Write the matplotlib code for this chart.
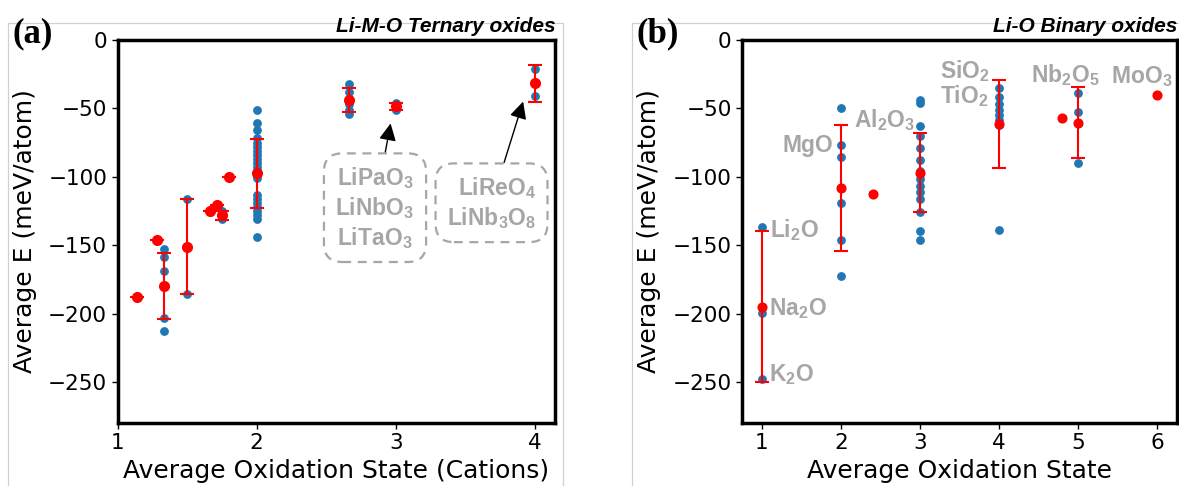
import numpy as np
import matplotlib
matplotlib.use("Agg")
import matplotlib.pyplot as plt
from matplotlib.lines import Line2D

plt.rcParams['mathtext.default'] = 'regular'

# ---------------- Panel (a): Li-M-O ternary oxides ----------------
a_blue_x = [4/3]*5 + [1.5]*2 + [1.75]*2 + [2]*22 + [8/3]*5 + [3]*2 + [4]*2
a_blue_y = [-153, -159, -169, -203, -213,
            -116, -186,
            -125, -131,
            -51, -61, -66, -72, -75, -78, -81, -84, -87, -90, -93, -96, -99, -101,
            -113, -116, -119, -122, -125, -128, -131, -144,
            -32, -38, -47, -51, -54,
            -46, -51,
            -21, -41]
a_mean_x = [8/7, 9/7, 4/3, 1.5, 5/3, 12/7, 1.75, 1.8, 2, 8/3, 3, 4]
a_mean_y = [-188, -146, -180, -151, -125, -120.5, -128, -100.5, -97.5, -44, -48.5, -31.5]
a_err = [0, 0, 24, 35, 0, 0, 3.3, 0, 25, 9, 2.5, 13.5]

a_box_texts = ["LiPaO$_3$\nLiNbO$_3$\nLiTaO$_3$", "LiReO$_4$\nLiNb$_3$O$_8$"]
a_box_targets = [(2.962, -61), (3.914, -45)]
a_box_centers = [(2.85, -122.6), (3.687, -119)]

# ---------------- Panel (b): Li-O binary oxides ----------------
b_blue_x = [1]*3 + [2]*6 + [3]*14 + [4]*8 + [5]*3
b_blue_y = [-137, -199.6, -247.7,
            -49.5, -76.4, -85.4, -119.1, -145.9, -172.8,
            -44, -46, -63, -70.5, -79.3, -87.8, -96, -101.5, -106.5, -111, -116,
            -125.7, -139.7, -146.4,
            -35.4, -41.5, -47, -51.2, -55, -58.6, -62.2, -139.1,
            -39, -52.5, -89.8]
b_mean_x = [1, 2, 2.4, 3, 4, 4.8, 5, 6]
b_mean_y = [-195, -108.3, -112.5, -97, -61.6, -57, -60.4, -40.5]
b_err = [55, 46, 0, 29, 32.3, 0, 26.2, 0]

b_labels = ["Li$_2$O", "Na$_2$O", "K$_2$O", "MgO", "Al$_2$O$_3$",
            "SiO$_2$", "TiO$_2$", "Nb$_2$O$_5$", "MoO$_3$"]
b_label_x = [1.10, 1.09, 1.09, 1.91, 2.937, 3.253, 3.253, 4.40, 5.41]
b_label_y = [-144, -201.3, -249.4, -81.7, -63.9, -28, -45.9, -30.5, -31.7]
b_label_ha = ["left", "left", "left", "right", "right", "left", "left", "left", "left"]

yticks = [0, -50, -100, -150, -200, -250]

W, H = 1179, 486
fig = plt.figure(figsize=(W/100, H/100), dpi=100)

ax_a = fig.add_axes([117.5/W, 1-423/H, (555-117.5)/W, 383/H])
ax_b = fig.add_axes([742/W, 1-423/H, (1177-742)/W, 383/H])

gray = '#a6a6a6'
lab_font = dict(family='Liberation Sans', weight='bold', color=gray, fontsize=16.5)

# Panel (a)
ax_a.scatter(a_blue_x, a_blue_y, s=40, color='#1f77b4', zorder=2, linewidths=0)
ax_a.errorbar(a_mean_x, a_mean_y, yerr=a_err, fmt='o', color='red', ms=7,
              capsize=5, elinewidth=1.5, capthick=1.5, zorder=3)
ax_a.set_xlim(1.0, 4.143)
ax_a.set_xticks([1, 2, 3, 4])
for txt, tgt, ctr, ma in zip(a_box_texts, a_box_targets, a_box_centers, ['center', 'right']):
    ax_a.annotate(txt, xy=tgt, xytext=ctr, ha='center', va='center', multialignment=ma,
                  **lab_font,
                  bbox=dict(boxstyle='round,pad=0.5,rounding_size=0.8', fc='white',
                            ec=gray, ls=(0, (4, 3)), lw=1.6),
                  arrowprops=dict(arrowstyle='-|>', color='black', lw=1,
                                  mutation_scale=26, shrinkA=0, shrinkB=0),
                  zorder=4)
ax_a.set_xlabel("Average Oxidation State (Cations)", fontsize=18)

# Panel (b)
b_mx = np.array(b_mean_x); b_my = np.array(b_mean_y); b_e = np.array(b_err)
m = b_e > 0
ax_b.scatter(b_blue_x, b_blue_y, s=40, color='#1f77b4', zorder=2, linewidths=0)
ax_b.errorbar(b_mx[m], b_my[m], yerr=b_e[m], fmt='o', color='red', ms=6.3,
              capsize=5, elinewidth=1.5, capthick=1.5, zorder=3)
ax_b.plot(b_mx[~m], b_my[~m], 'o', color='red', ms=6.3, zorder=3)
ax_b.set_xlim(0.75, 6.25)
ax_b.set_xticks([1, 2, 3, 4, 5, 6])
for t, x, y, ha in zip(b_labels, b_label_x, b_label_y, b_label_ha):
    ax_b.text(x, y, t, ha=ha, va='baseline', **lab_font, zorder=4)
ax_b.set_xlabel("Average Oxidation State", fontsize=18)

for ax in (ax_a, ax_b):
    ax.set_ylim(-280, 0)
    ax.set_yticks(yticks)
    ax.set_ylabel("Average E (meV/atom)", fontsize=18, labelpad=8)
    ax.tick_params(labelsize=15.5, length=4, width=1)
    for s in ax.spines.values():
        s.set_linewidth(2.5)

# titles
fig.text(556/W, 1-32/H, "Li-M-O Ternary oxides", ha='right', va='baseline',
         family='Liberation Sans', weight='bold', style='italic', fontsize=15)
fig.text(1177/W, 1-32/H, "Li-O Binary oxides", ha='right', va='baseline',
         family='Liberation Sans', weight='bold', style='italic', fontsize=15)
fig.text(12.7/W, 1-42/H, "(a)", ha='left', va='baseline',
         family='Liberation Serif', weight='bold', fontsize=25)
fig.text(636.7/W, 1-42/H, "(b)", ha='left', va='baseline',
         family='Liberation Serif', weight='bold', fontsize=25)

# light gray panel frames
fc = '#d0d0d0'
def fl(xs, ys):
    fig.add_artist(Line2D([x/W for x in xs], [1-y/H for y in ys], color=fc, lw=0.9))
fl([8.3, 8.3, 562.7, 562.7], [486, 22.7, 22.7, 486])
fl([631.7, 631.7, 1179], [486, 22.7, 22.7])

fig.savefig("out.png", dpi=100)
